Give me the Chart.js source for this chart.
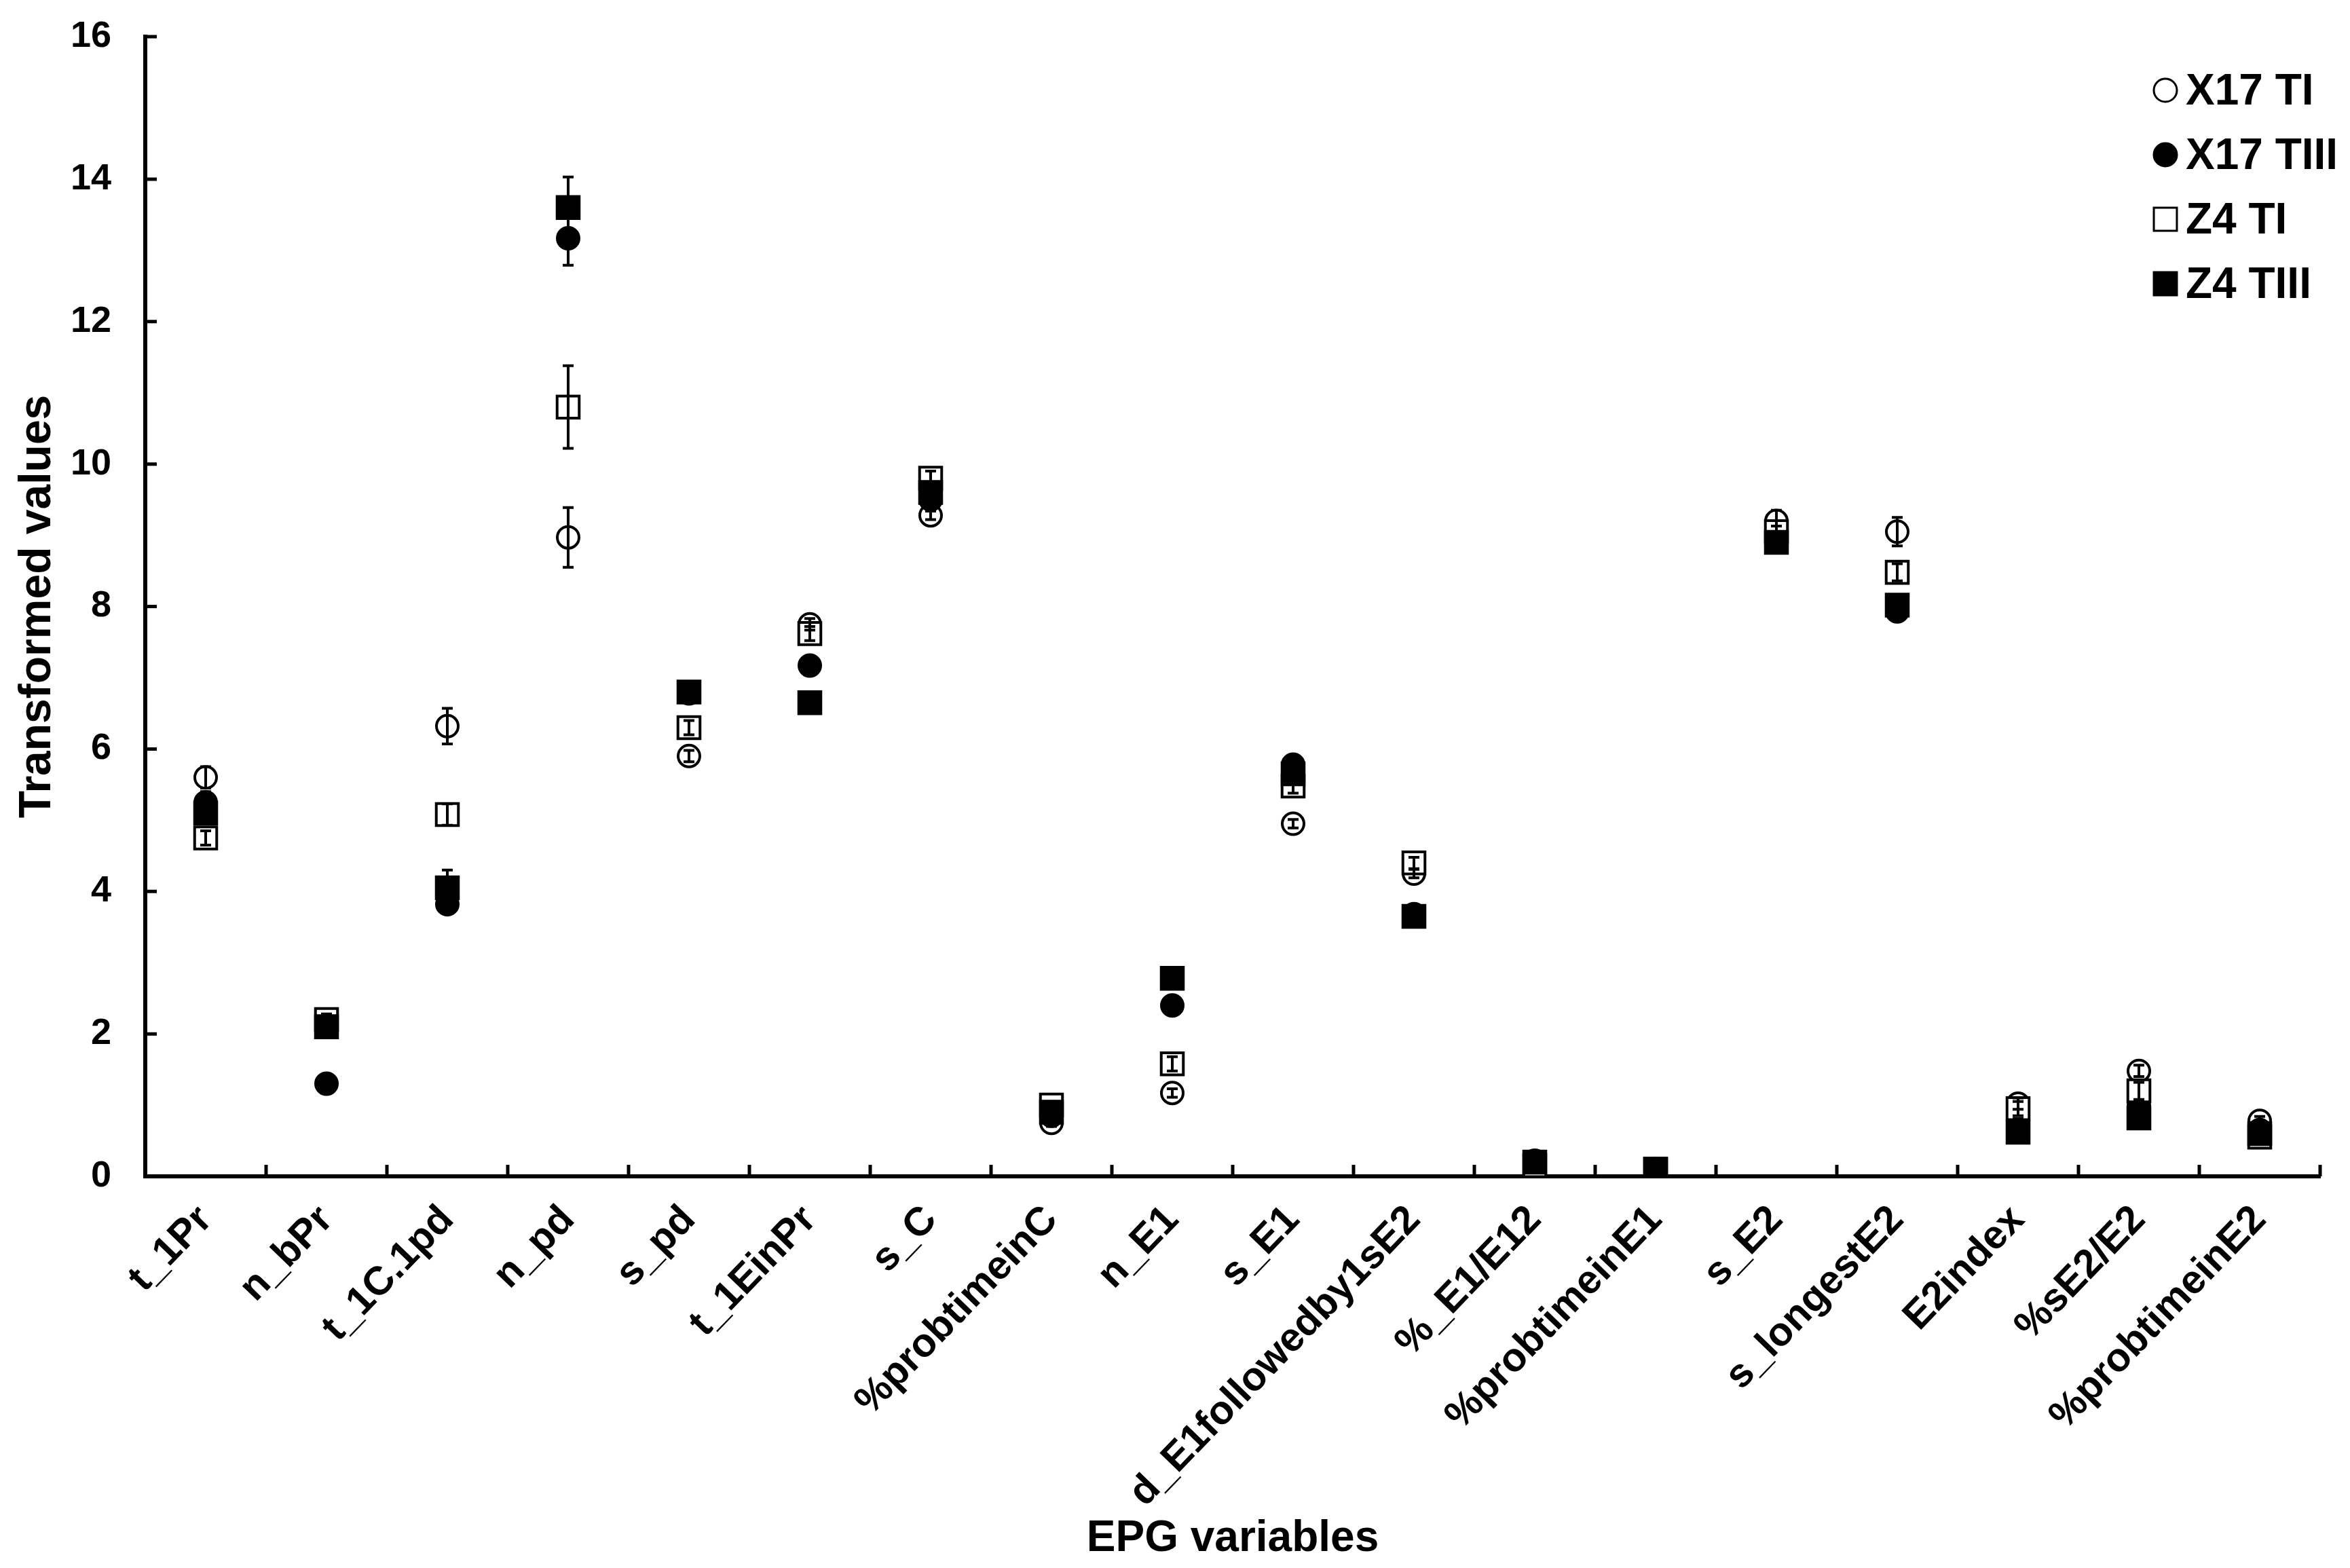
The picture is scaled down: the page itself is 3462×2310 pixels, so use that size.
<!DOCTYPE html>
<html>
<head>
<meta charset="utf-8">
<script src="https://cdn.jsdelivr.net/npm/chart.js@4.4.1/dist/chart.umd.min.js"></script>
<style>
  html, body { margin: 0; padding: 0; background: #fff; }
  canvas { display: block; }
</style>
</head>
<body>
<canvas id="chart" width="3462" height="2310"></canvas>
<script>
// EPG variables (categories)
const labels = ['t_1Pr', 'n_bPr', 't_1C.1pd', 'n_pd', 's_pd', 't_1EinPr', 's_C', '%probtimeinC', 'n_E1', 's_E1',
    'd_E1followedby1sE2', '%_E1/E12', '%probtimeinE1', 's_E2', 's_longestE2', 'E2index', '%sE2/E2', '%probtimeinE2'];

// mean values
const x17TI   = [5.6, 2.15, 6.32, 8.97, 5.9, 7.75, 9.28, 0.75, 1.17, 4.95, 4.25, 0.15, 0.1, 9.2, 9.05, 1.02, 1.48, 0.78];
const x17TIII = [5.25, 1.3, 3.82, 13.17, 6.78, 7.17, 9.5, 0.85, 2.4, 5.78, 3.68, 0.22, 0.1, 8.95, 7.93, 0.75, 1.0, 0.65];
const z4TI    = [4.75, 2.2, 5.08, 10.8, 6.3, 7.62, 9.8, 1.0, 1.58, 5.48, 4.4, 0.15, 0.1, 9.05, 8.48, 0.95, 1.2, 0.55];
const z4TIII  = [5.1, 2.1, 4.05, 13.6, 6.8, 6.65, 9.6, 0.9, 2.78, 5.65, 3.65, 0.2, 0.1, 8.9, 8.02, 0.62, 0.82, 0.6];

// error bars (+/-)
const x17TIErr   = [0.15, 0.05, 0.25, 0.42, 0.08, 0.08, 0.06, 0.05, 0.06, 0.06, 0.06, 0.03, 0.02, 0.15, 0.2, 0.08, 0.08, 0.06];
const x17TIIIErr = [0.15, 0.08, 0.1, 0.38, 0.08, 0.08, 0.08, 0.05, 0.08, 0.08, 0.06, 0.03, 0.02, 0.08, 0.08, 0.06, 0.06, 0.05];
const z4TIErr    = [0.1, 0.08, 0.15, 0.58, 0.1, 0.1, 0.1, 0.05, 0.1, 0.1, 0.08, 0.03, 0.02, 0.08, 0.12, 0.1, 0.12, 0.05];
const z4TIIIErr  = [0.12, 0.1, 0.25, 0.43, 0.06, 0.06, 0.08, 0.05, 0.08, 0.08, 0.06, 0.03, 0.02, 0.06, 0.08, 0.08, 0.1, 0.05];

const yTicks = [0, 2, 4, 6, 8, 10, 12, 14, 16];

const FONT = "'Liberation Sans', Arial, sans-serif";

function makeSet(label, data, err, style, filled, order) {
    return {
        label: label,
        data: data,
        errors: err,
        showLine: false,
        pointStyle: style,
        pointRadius: style === 'rect' ? 23 : 16,
        pointHoverRadius: style === 'rect' ? 23 : 16,
        pointBorderWidth: 4,
        pointBorderColor: '#000',
        pointBackgroundColor: filled ? '#000' : '#fff',
        borderColor: '#000',
        backgroundColor: filled ? '#000' : '#fff',
        order: order
    };
}

// error bars, drawn through the scales
const errorBars = {
    id: 'errorBars',
    afterDatasetsDraw(chart) {
        const ctx = chart.ctx;
        const y = chart.scales.y;
        ctx.save();
        ctx.strokeStyle = '#000';
        ctx.lineWidth = 4;
        chart.data.datasets.forEach((ds, di) => {
            const meta = chart.getDatasetMeta(di);
            meta.data.forEach((pt, i) => {
                const e = ds.errors[i];
                const yTop = y.getPixelForValue(ds.data[i] + e);
                const yBot = y.getPixelForValue(ds.data[i] - e);
                ctx.beginPath();
                ctx.moveTo(pt.x, yTop); ctx.lineTo(pt.x, yBot);
                ctx.moveTo(pt.x - 8, yTop); ctx.lineTo(pt.x + 8, yTop);
                ctx.moveTo(pt.x - 8, yBot); ctx.lineTo(pt.x + 8, yBot);
                ctx.stroke();
            });
        });
        ctx.restore();
    }
};

// inward tick marks on both axes
const innerTicks = {
    id: 'innerTicks',
    afterDraw(chart) {
        const ctx = chart.ctx;
        const area = chart.chartArea;
        const x = chart.scales.x, y = chart.scales.y;
        ctx.save();
        ctx.strokeStyle = '#000';
        ctx.lineWidth = 5;
        ctx.beginPath();
        y.ticks.forEach(t => {
            const py = y.getPixelForValue(t.value);
            ctx.moveTo(area.left, py); ctx.lineTo(area.left + 17, py);
        });
        const step = x.getPixelForValue(1) - x.getPixelForValue(0);
        for (let i = 1; i <= labels.length; i++) {
            const px = x.getPixelForValue(i) - step / 2;
            ctx.moveTo(px, area.bottom); ctx.lineTo(px, area.bottom - 17);
        }
        ctx.stroke();
        ctx.restore();
    }
};

// legend in the upper right corner
const cornerLegend = {
    id: 'cornerLegend',
    afterDraw(chart) {
        const ctx = chart.ctx;
        const area = chart.chartArea;
        ctx.save();
        ctx.font = 'bold 64px ' + FONT;
        ctx.textBaseline = 'middle';
        chart.data.datasets.forEach((ds, i) => {
            const cx = area.right - 228;
            const cy = area.top + 79 + i * 95;
            ctx.fillStyle = ds.pointBackgroundColor;
            ctx.strokeStyle = '#000';
            ctx.lineWidth = 3;
            Chart.helpers.drawPoint(ctx, {
                pointStyle: ds.pointStyle,
                radius: ds.pointStyle === 'rect' ? 24 : 17,
                borderWidth: 3,
                rotation: 0
            }, cx, cy);
            ctx.fillStyle = '#000';
            ctx.fillText(ds.label, cx + 30, cy + 3);
        });
        ctx.restore();
    }
};

function createChart() {
    const ctx = document.getElementById('chart').getContext('2d');
    new Chart(ctx, {
        type: 'line',
        data: {
            labels: labels,
            datasets: [
                makeSet('X17 TI', x17TI, x17TIErr, 'circle', false, 4),
                makeSet('X17 TIII', x17TIII, x17TIIIErr, 'circle', true, 3),
                makeSet('Z4 TI', z4TI, z4TIErr, 'rect', false, 2),
                makeSet('Z4 TIII', z4TIII, z4TIIIErr, 'rect', true, 1)
            ]
        },
        options: {
            responsive: false,
            animation: false,
            devicePixelRatio: 1,
            layout: { autoPadding: false, padding: { left: 0, right: 44, top: 54, bottom: 0 } },
            plugins: {
                legend: { display: false },
                tooltip: { enabled: false }
            },
            scales: {
                x: {
                    type: 'category',
                    offset: true,
                    grid: { offset: true, drawOnChartArea: false, drawTicks: false },
                    border: { display: true, color: '#000', width: 6 },
                    ticks: {
                        autoSkip: false,
                        minRotation: 46,
                        maxRotation: 46,
                        padding: 30,
                        color: '#000',
                        font: { family: FONT, size: 59, weight: 'bold' }
                    },
                    title: {
                        display: true,
                        text: 'EPG variables',
                        color: '#000',
                        padding: { top: 0, bottom: 4 },
                        font: { family: FONT, size: 64, weight: 'bold' }
                    },
                    afterFit(scale) { scale.height = 577; }
                },
                y: {
                    min: 0,
                    max: 16,
                    grid: { drawOnChartArea: false, drawTicks: false },
                    border: { display: true, color: '#000', width: 6 },
                    afterBuildTicks(scale) { scale.ticks = yTicks.map(v => ({ value: v })); },
                    ticks: {
                        padding: 50,
                        color: '#000',
                        font: { family: FONT, size: 54, weight: 'bold', lineHeight: 1 }
                    },
                    title: {
                        display: true,
                        text: 'Transformed values',
                        color: '#000',
                        padding: { top: 16, bottom: 0 },
                        font: { family: FONT, size: 66, weight: 'bold' }
                    },
                    afterFit(scale) {
                        scale.width = 214;
                        scale.paddingTop = 0;
                        scale.paddingBottom = 0;
                    }
                }
            }
        },
        plugins: [errorBars, innerTicks, cornerLegend]
    });
}

window.onload = function () {
    createChart();
};
</script>
</body>
</html>
